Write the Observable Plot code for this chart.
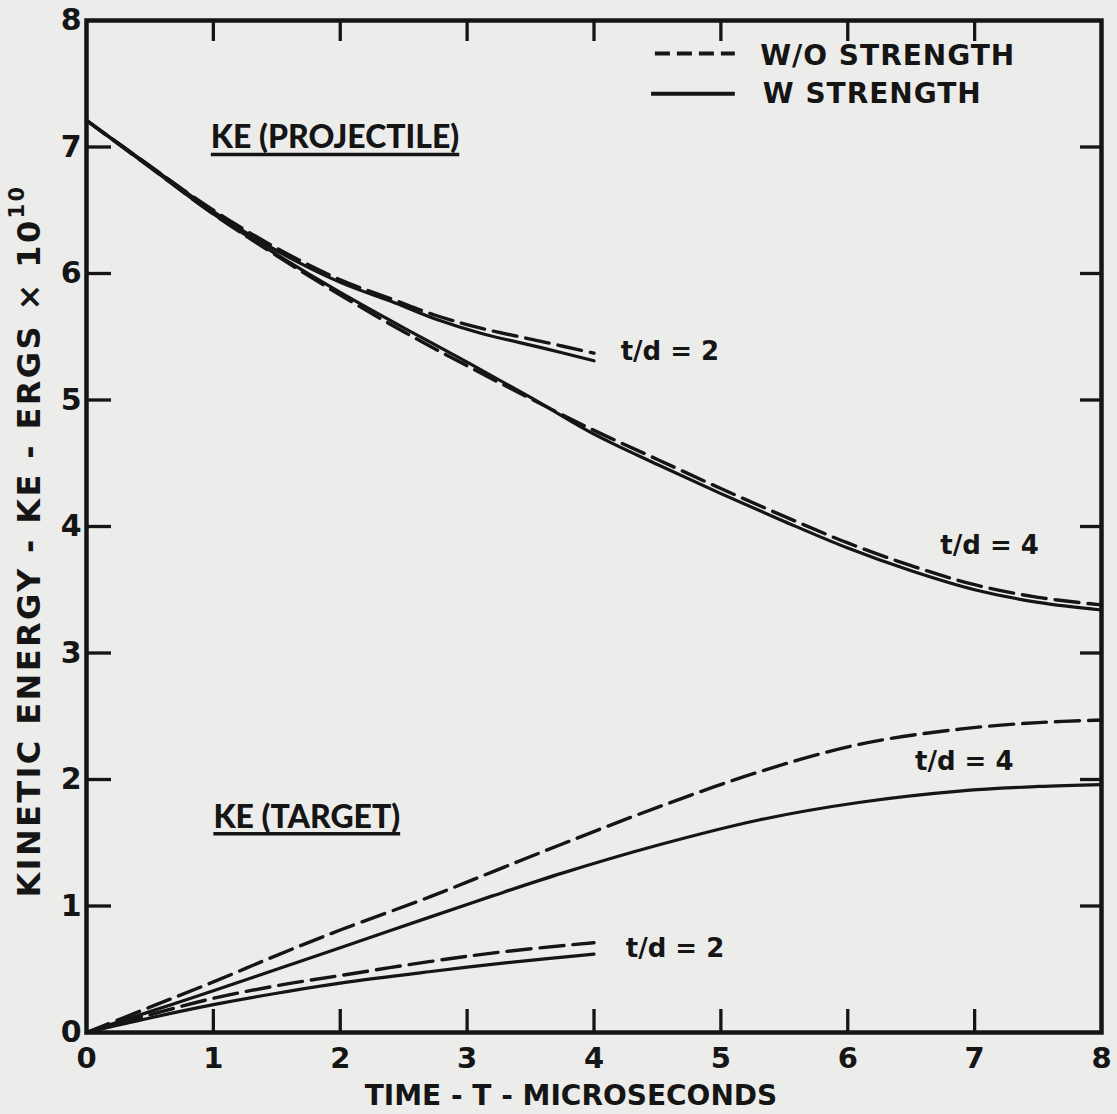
<!DOCTYPE html>
<html><head><meta charset="utf-8">
<script src="https://cdn.jsdelivr.net/npm/d3@7"></script>
<script src="https://cdn.jsdelivr.net/npm/@observablehq/plot@0.6"></script>
<style>
html,body{margin:0;padding:0;background:#ececea;overflow:hidden;}
#chart{width:1117px;height:1114px;}
</style></head><body><div id="chart"></div>
<script>
// ---- tick values ----
const xTicks = [0,1,2,3,4,5,6,7,8];
const yTicks = [0,1,2,3,4,5,6,7,8];
const innerTicks = [1,2,3,4,5,6,7];

// ---- KE (projectile): [time µs, KE ×1e10 ergs] ----
const projTd2WO = [[0,7.21],[0.5,6.85],[1,6.50],[1.5,6.20],[2,5.95],[2.4,5.80],[2.75,5.67],[3.1,5.57],[3.6,5.46],[4.0,5.37]];
const projTd2W  = [[0,7.21],[0.5,6.85],[1,6.49],[1.5,6.18],[2,5.93],[2.4,5.78],[2.75,5.64],[3.1,5.53],[3.6,5.41],[4.0,5.31]];
const projTd4WO = [[0,7.21],[0.5,6.84],[1,6.47],[1.5,6.14],[2,5.83],[2.5,5.54],[3,5.27],[3.5,5.01],[4,4.76],[4.5,4.53],[5,4.30],[5.5,4.08],[6,3.87],[6.5,3.69],[7,3.54],[7.5,3.44],[8,3.38]];
const projTd4W  = [[0,7.21],[0.5,6.84],[1,6.47],[1.5,6.15],[2,5.85],[2.5,5.57],[3,5.30],[3.5,5.02],[4,4.73],[4.5,4.49],[5,4.26],[5.5,4.04],[6,3.83],[6.5,3.65],[7,3.50],[7.5,3.40],[8,3.34]];

// ---- KE (target) ----
const targTd4WO = [[0,0],[0.5,0.20],[1,0.40],[1.5,0.61],[2,0.81],[2.7,1.07],[3.2,1.27],[3.75,1.49],[4.5,1.78],[5.3,2.06],[6.1,2.28],[6.9,2.40],[7.5,2.45],[8,2.47]];
const targTd4W  = [[0,0],[0.5,0.165],[1,0.33],[1.5,0.50],[2,0.67],[2.7,0.91],[3.2,1.08],[3.75,1.26],[4.5,1.48],[5.3,1.68],[6.1,1.82],[6.9,1.91],[7.5,1.945],[8,1.96]];
const targTd2WO = [[0,0],[0.5,0.14],[1,0.27],[1.5,0.37],[2,0.45],[2.7,0.56],[3.3,0.64],[4,0.71]];
const targTd2W  = [[0,0],[0.5,0.115],[1,0.22],[1.5,0.31],[2,0.39],[2.7,0.48],[3.3,0.55],[4,0.62]];

const series = [
  {name:"proj t/d=2 W/O", pts:projTd2WO, dashed:true},
  {name:"proj t/d=2 W",   pts:projTd2W,  dashed:false},
  {name:"proj t/d=4 W/O", pts:projTd4WO, dashed:true},
  {name:"proj t/d=4 W",   pts:projTd4W,  dashed:false},
  {name:"targ t/d=4 W/O", pts:targTd4WO, dashed:true},
  {name:"targ t/d=4 W",   pts:targTd4W,  dashed:false},
  {name:"targ t/d=2 W/O", pts:targTd2WO, dashed:true},
  {name:"targ t/d=2 W",   pts:targTd2W,  dashed:false}
];
const rows = series.flatMap(s => s.pts.map(([t, ke]) => ({series:s.name, dashed:s.dashed, t, ke})));

// ---- annotations (anchored in data units) ----
const curveLabels = [
  {text:"t/d = 2", t:4.21, ke:5.38},
  {text:"t/d = 4", t:6.73, ke:3.85},
  {text:"t/d = 4", t:6.53, ke:2.14},
  {text:"t/d = 2", t:4.25, ke:0.66}
];
const groupLabels = [
  {text:"KE (PROJECTILE)", t:0.98, ke:7.07},
  {text:"KE (TARGET)", t:1.00, ke:1.70}
];
const legendKeys = [
  {label:"W/O STRENGTH", dashed:true,  t1:4.48, t2:5.11, ke:7.74, tText:5.31, keText:7.72},
  {label:"W STRENGTH",   dashed:false, t1:4.45, t2:5.11, ke:7.42, tText:5.33, keText:7.415}
];
const xTitle = "TIME - T - MICROSECONDS";
const yTitle = "KINETIC ENERGY - KE - ERGS × 10";
const yTitleExp = "10";

const W=1117, H=1114, mL=86, mR=16, mT=20, mB=82;
const innerW = W-mL-mR, innerH = H-mT-mB;
const ink = "#151515";
const font = "'DejaVu Sans', sans-serif";
const labelFont = "Lato, 'DejaVu Sans', sans-serif";
const intFmt = d => String(d);

const chart = Plot.plot({
  width: W, height: H,
  marginLeft: mL, marginRight: mR, marginTop: mT, marginBottom: mB,
  x: {domain:[0,8]},
  y: {domain:[0,8]},
  style: {background:"transparent", color: ink, fontFamily: font},
  marks: [
    Plot.line(rows.filter(d => !d.dashed), {x:"t", y:"ke", z:"series", stroke:ink, strokeWidth:3.2, curve:"catmull-rom"}),
    Plot.line(rows.filter(d => d.dashed), {x:"t", y:"ke", z:"series", stroke:ink, strokeWidth:3.4, strokeDasharray:"24,9", curve:"catmull-rom"}),
    // inward ticks on all four sides
    Plot.ruleX(innerTicks, {x:d=>d, insetTop: innerH-23, stroke:ink, strokeWidth:3.3}),
    Plot.ruleX(innerTicks, {x:d=>d, insetBottom: innerH-21, stroke:ink, strokeWidth:3.3}),
    Plot.ruleY(innerTicks, {y:d=>d, insetRight: innerW-25, stroke:ink, strokeWidth:3.3}),
    Plot.ruleY(innerTicks, {y:d=>d, insetLeft: innerW-21, stroke:ink, strokeWidth:3.3}),
    Plot.frame({stroke:ink, strokeWidth:4.5}),
    Plot.axisX(xTicks, {tickSize:0, tickPadding:15, fontSize:29, fontWeight:"bold", label:null, tickFormat:intFmt}),
    Plot.axisY(yTicks, {tickSize:0, tickPadding:5, fontSize:30, fontWeight:"bold", label:null, tickFormat:intFmt}),
    Plot.text([xTitle], {frameAnchor:"bottom", dx:-23, dy:72, fontSize:28, fontWeight:"bold", fill:ink}),
    // curve labels
    Plot.text(curveLabels, {x:"t", y:"ke", text:"text", textAnchor:"start", fontSize:26, fontWeight:"bold", fill:ink}),
    Plot.text(groupLabels, {x:"t", y:"ke", text:"text", textAnchor:"start", fontSize:32, fontWeight:900, fontFamily:labelFont, fill:ink}),
    // legend
    Plot.link(legendKeys.filter(d=>d.dashed), {x1:"t1", x2:"t2", y1:"ke", y2:"ke", stroke:ink, strokeWidth:4, strokeDasharray:"15,7"}),
    Plot.link(legendKeys.filter(d=>!d.dashed), {x1:"t1", x2:"t2", y1:"ke", y2:"ke", stroke:ink, strokeWidth:4}),
    Plot.text(legendKeys, {x:"tText", y:"keText", text:"label", textAnchor:"start", fontSize:28, fontWeight:"bold", fill:ink})
  ]
});
document.getElementById("chart").append(chart);

const svg = d3.select(chart);
// y-axis title with superscript
const yt = svg.append("text")
  .attr("transform", "translate(28,541) rotate(-90)")
  .attr("text-anchor", "middle")
  .attr("dy", "0.36em")
  .attr("font-family", font)
  .attr("font-size", 32)
  .attr("font-weight", "bold")
  .attr("letter-spacing", 2.4)
  .attr("fill", ink);
yt.append("tspan").text(yTitle);
yt.append("tspan").attr("font-size", 21).attr("dy", "-0.75em").text(yTitleExp);

// slightly wider spacing in the legend lettering
const legendTexts = new Set(legendKeys.map(d => d.label));
svg.selectAll("text").filter(function(){ return legendTexts.has(this.textContent); })
  .attr("letter-spacing", 1);

// underline the group labels
const groupTexts = new Set(groupLabels.map(d => d.text));
svg.selectAll("text").filter(function(){ return groupTexts.has(this.textContent); }).each(function(){
  const b = this.getBBox();
  const m = this.getCTM();
  const pt = chart.createSVGPoint();
  pt.x = b.x; pt.y = b.y + b.height;
  const p1 = pt.matrixTransform(m);
  pt.x = b.x + b.width;
  const p2 = pt.matrixTransform(m);
  svg.append("line")
    .attr("x1", p1.x).attr("x2", p2.x)
    .attr("y1", p1.y - 1).attr("y2", p2.y - 1)
    .attr("stroke", ink).attr("stroke-width", 3.5);
});
</script></body></html>
